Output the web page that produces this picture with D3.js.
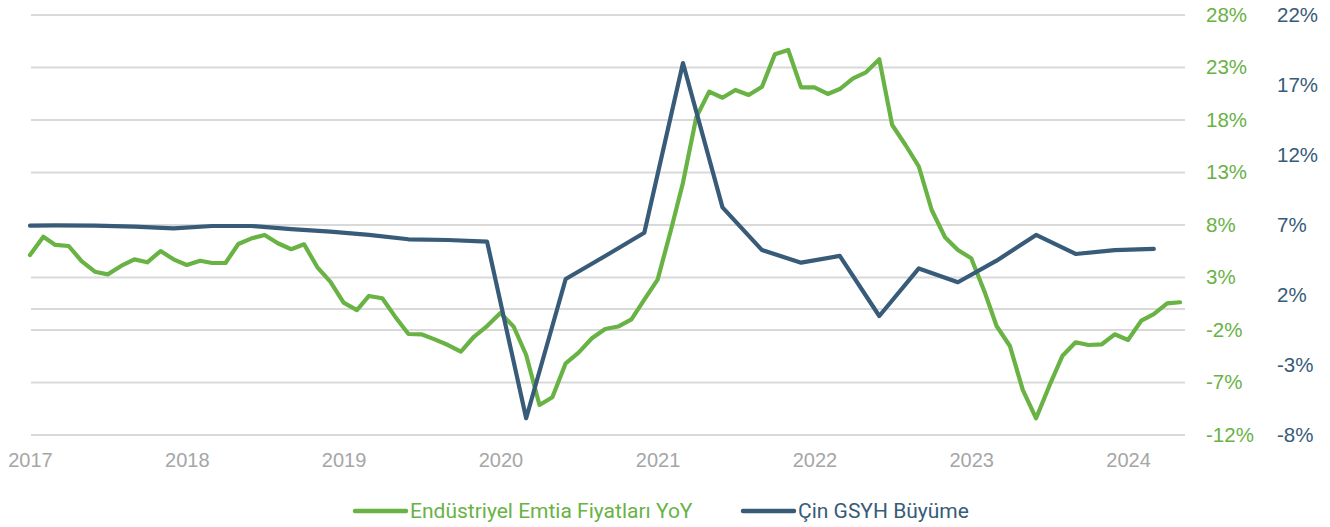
<!DOCTYPE html>
<html><head><meta charset="utf-8">
<script src="https://cdn.jsdelivr.net/npm/d3@7"></script>
<style>
html,body{margin:0;padding:0;background:#fff;}
svg{display:block;font-family:Roboto, "DejaVu Sans", sans-serif;}
</style></head>
<body><svg id="c" width="1330" height="527"></svg>
<script>
// ---- data ----
const greenStart = "2017-01";
const greenValues = [5.14,6.89,6.1,6.0,4.57,3.55,3.3,4.1,4.73,4.45,5.52,4.73,
 4.19,4.6,4.38,4.38,6.19,6.73,7.05,6.26,5.69,6.16,3.97,2.6,
 0.6,-0.1,1.24,1.02,-0.73,-2.38,-2.41,-2.89,-3.43,-4.05,-2.62,-1.62,
 -0.38,-1.69,-4.38,-9.14,-8.41,-5.17,-4.16,-2.79,-1.9,-1.67,-0.98,0.89,
 2.8,7.52,12.03,18.26,20.7,20.12,20.86,20.38,21.17,24.26,24.67,21.11,
 21.11,20.48,20.95,21.97,22.54,23.78,17.52,15.62,13.57,9.43,6.83,5.62,
 4.83,1.65,-1.62,-3.52,-7.71,-10.41,-7.4,-4.48,-3.17,-3.43,-3.36,-2.41,
 -2.95,-1.11,-0.48,0.54,0.64];
const blueDates = ["2017-01","2017-03","2017-06","2017-09","2017-12","2018-03","2018-06","2018-09","2018-12",
 "2019-03","2019-06","2019-09","2019-12","2020-03","2020-06","2020-09","2020-12",
 "2021-03","2021-06","2021-09","2021-12","2022-03","2022-06","2022-09","2022-12",
 "2023-03","2023-06","2023-09","2023-12","2024-03"];
const blueValues = [6.95,6.97,6.95,6.88,6.76,6.93,6.93,6.71,6.52,
 6.29,5.98,5.93,5.81,-6.8,3.14,4.79,6.45,
 18.57,8.26,5.21,4.31,4.79,0.5,3.9,2.91,
 4.45,6.29,4.93,5.21,5.29];
const greenTicks = [28,23,18,13,8,3,-2,-7,-12];
const blueTicks = [22,17,12,7,2,-3,-8];
const yearTicks = ["2017","2018","2019","2020","2021","2022","2023","2024"];
const seriesNames = ["Endüstriyel Emtia Fiyatları YoY","Çin GSYH Büyüme"];

// ---- setup ----
const GREEN = "#69b244", BLUE = "#375b78", GRID = "#d9d9d9";
const svg = d3.select("#c");
const parseM = d3.timeParse("%Y-%m");
const parseY = d3.timeParse("%Y");
const gStart = parseM(greenStart);
const greenData = greenValues.map((v,i)=>({d:d3.timeMonth.offset(gStart,i), v}));
const blueData = blueDates.map((s,i)=>({d:parseM(s), v:blueValues[i]}));

const x = d3.scaleTime()
  .domain([gStart, greenData[greenData.length-1].d])
  .range([30, 1180]);
const yL = d3.scaleLinear().domain([-12, 28]).range([435, 15]);
const yR = d3.scaleLinear().domain([-8, 22]).range([435, 15]);

// gridlines
const gridVals = greenTicks.concat([0]);
svg.append("g").selectAll("line").data(gridVals).join("line")
  .attr("x1", 31).attr("x2", 1185)
  .attr("y1", d=>yL(d)).attr("y2", d=>yL(d))
  .attr("stroke", GRID).attr("stroke-width", 2);

// right axes
const axG = svg.append("g").attr("transform","translate(1206,0)")
  .call(d3.axisRight(yL).tickValues(greenTicks).tickSize(0).tickPadding(0).tickFormat(d=>d+"%"));
axG.select(".domain").remove();
axG.selectAll("text").attr("fill", GREEN).style("font-size","20.5px").style("font-weight","300").attr("dy","0.3em");

const axB = svg.append("g").attr("transform","translate(1277,0)")
  .call(d3.axisRight(yR).tickValues(blueTicks).tickSize(0).tickPadding(0).tickFormat(d=>d+"%"));
axB.select(".domain").remove();
axB.selectAll("text").attr("fill", BLUE).style("font-size","20.5px").style("font-weight","300").attr("dy","0.3em");

// x axis
const axX = svg.append("g").attr("transform","translate(0,453)")
  .call(d3.axisBottom(x).tickValues(yearTicks.map(parseY)).tickSize(0).tickPadding(0).tickFormat(d3.timeFormat("%Y")));
axX.select(".domain").remove();
axX.selectAll("text").attr("fill","#a6a6a6").style("font-size","20px").style("font-weight","300");

// lines
const lineL = d3.line().x(d=>x(d.d)).y(d=>yL(d.v));
const lineR = d3.line().x(d=>x(d.d)).y(d=>yR(d.v));
svg.append("path").datum(greenData).attr("d", lineL)
  .attr("fill","none").attr("stroke",GREEN).attr("stroke-width",4.2)
  .attr("stroke-linejoin","round").attr("stroke-linecap","round");
svg.append("path").datum(blueData).attr("d", lineR)
  .attr("fill","none").attr("stroke",BLUE).attr("stroke-width",4.2)
  .attr("stroke-linejoin","round").attr("stroke-linecap","round");

// legend
const leg = [{name:seriesNames[0], color:GREEN, x:353},{name:seriesNames[1], color:BLUE, x:741}];
const lg = svg.append("g").selectAll("g").data(leg).join("g")
  .attr("transform", d=>`translate(${d.x},511)`);
lg.append("line").attr("x1",2).attr("x2",53).attr("y1",0).attr("y2",0)
  .attr("stroke", d=>d.color).attr("stroke-width",4.5).attr("stroke-linecap","round");
lg.append("text").attr("x",57).attr("dy","0.35em").text(d=>d.name)
  .attr("fill", d=>d.color).style("font-size","21px");
</script></body></html>
